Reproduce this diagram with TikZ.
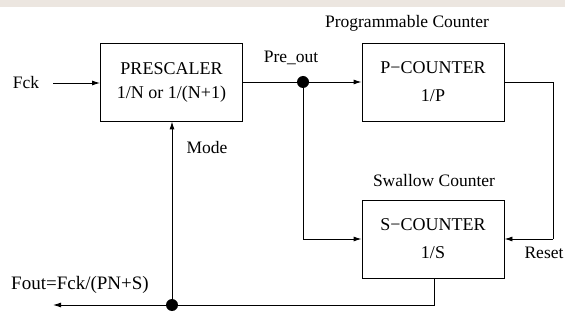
\documentclass[tikz,border=0pt]{standalone}
\usepackage{fontspec}
\setmainfont{Liberation Serif}
\usetikzlibrary{arrows.meta}
\definecolor{band}{RGB}{236,230,224}
\tikzset{
  blk/.style={draw, line width=0.9pt, minimum width=142pt, minimum height=78pt, inner sep=0pt, font=\fontsize{18}{18}\selectfont, align=center},
  lbl/.style={font=\fontsize{17.5}{18}\selectfont, inner sep=0pt},
  wire/.style={line width=0.9pt},
  arr/.style={wire, -{Latex[length=8pt,width=5pt]}},
  dot/.style={circle, fill, inner sep=0pt, minimum size=12pt}
}
\begin{document}
\begin{tikzpicture}[x=1pt,y=-1pt]
\useasboundingbox (0,0) rectangle (565,323);
\fill[band] (0,0) rectangle (565,7);
% blocks
\node[blk] (pre) at (171.5,82) {PRESCALER\\[6pt]1/N or 1/(N+1)};
\node[blk] (pc) at (433,82) {P{\char"2212}COUNTER\\[10pt]1/P};
\node[blk] (sc) at (433,239) {S{\char"2212}COUNTER\\[10pt]1/S};
% labels
\node[lbl] (fck) at (26,83) {Fck};
\node[lbl] (preout) at (291,58) {Pre\_out};
\node[lbl] (prog) at (407,23) {Programmable Counter};
\node[lbl] (swal) at (434,181) {Swallow Counter};
\node[lbl] (mode) at (207,148) {Mode};
\node[lbl] (reset) at (544,253) {Reset};
\node[lbl, font=\fontsize{19}{19}\selectfont] (fout) at (80,285) {Fout=Fck/(PN+S)};
% junctions
\node[dot] (j1) at (303,82) {};
\node[dot] (j2) at (172,305) {};
\coordinate (fckin) at (53,83);
\coordinate (foutend) at (53,305);
\coordinate (pr) at (553,82);
\coordinate (sr) at (553,239);
\coordinate (jl) at (303,239);
\coordinate (sb) at (434,305);
% connectors
\draw[arr] (fckin) -- (pre.west |- fckin);
\draw[wire] (pre.east |- j1) -- (j1);
\draw[arr] (j1) -- (pc.west |- j1);
\draw[wire] (pc.east |- pr) -- (pr) -- (sr);
\draw[arr] (sr) -- (sc.east |- sr);
\draw[wire] (j1) -- (jl);
\draw[arr] (jl) -- (sc.west |- jl);
\draw[wire] (sc.south -| sb) -- (sb) -- (j2);
\draw[arr] (j2) -- (foutend);
\draw[arr] (j2) -- (pre.south -| j2);
\end{tikzpicture}
\end{document}
